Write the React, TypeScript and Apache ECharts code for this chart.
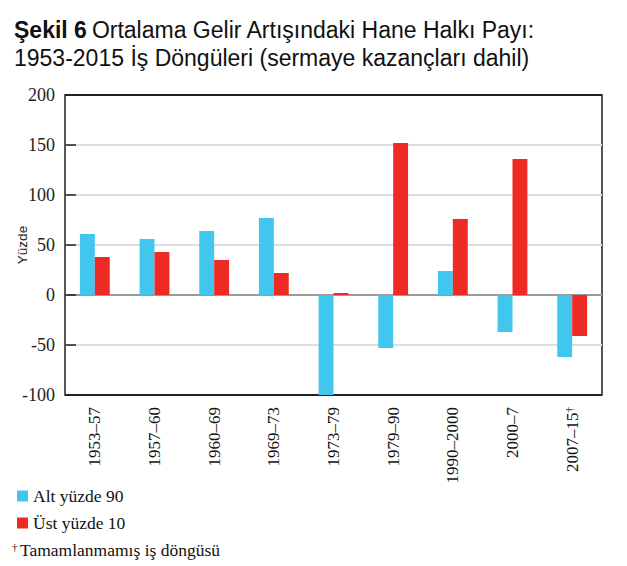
import React, { useEffect, useRef } from "react";
import * as echarts from "echarts";

const categories = ["1953–57", "1957–60", "1960–69", "1969–73", "1973–79", "1979–90", "1990–2000", "2000–7", "2007–15"];
const bottom90 = [61, 56, 64, 77, -100, -53, 24, -37, -62];
const top10 = [38, 43, 35, 22, 2, 152, 76, 136, -41];
const seriesNames = ["Alt yüzde 90", "Üst yüzde 10"];
const titleBold = "Şekil 6";
const titleLine1 = "Ortalama Gelir Artışındaki Hane Halkı Payı:";
const titleLine2 = "1953-2015 İş Döngüleri (sermaye kazançları dahil)";
const footnote = "Tamamlanmamış iş döngüsü";
const incompleteIndex = 8;

const BLUE = "#41C6EE";
const RED = "#EE2A25";
const SERIF = "'Liberation Serif', 'Times New Roman', serif";
const SANS = "'Liberation Sans', Arial, sans-serif";

export default function App() {
  const ref = useRef<HTMLDivElement>(null);
  useEffect(() => {
    if (!ref.current) return;
    const chart = echarts.init(ref.current, undefined, { renderer: "svg" });
    chart.setOption({
      animation: false,
      backgroundColor: "#fff",
      title: {
        left: 14,
        top: 16,
        padding: 0,
        text: `{b|${titleBold}} {n|${titleLine1}}\n{n|${titleLine2}}`,
        textStyle: {
          fontWeight: "normal",
          rich: {
            b: { fontFamily: SANS, fontSize: 23, fontWeight: "bold", color: "#111", lineHeight: 28 },
            n: { fontFamily: SANS, fontSize: 23, fontWeight: "normal", color: "#111", lineHeight: 28 },
          },
        },
      },
      legend: {
        orient: "vertical",
        left: 12,
        top: 482,
        itemWidth: 11,
        itemHeight: 11,
        itemGap: 9,
        icon: "rect",
        selectedMode: false,
        data: seriesNames,
        textStyle: { fontFamily: SERIF, fontSize: 17.5, color: "#111" },
      },
      graphic: [
        { type: "text", left: 12, top: 541, style: { text: "†", fontFamily: SERIF, fontSize: 11, fill: "#111" } },
        { type: "text", left: 20, top: 541, style: { text: footnote, fontFamily: SERIF, fontSize: 17.5, fill: "#111" } },
      ],
      grid: {
        left: 65,
        right: 25,
        top: 95,
        bottom: 171,
        outerBoundsMode: "none",
        containLabel: false,
        show: true,
        borderColor: "#222",
        borderWidth: 1.5,
      },
      xAxis: {
        type: "category",
        data: categories,
        axisLine: { show: false, onZero: false },
        axisTick: { show: false },
        axisLabel: {
          interval: 0,
          rotate: 90,
          margin: 12,
          fontFamily: SERIF,
          fontSize: 17,
          color: "#111",
          formatter: (v: string, i: number) => (i === incompleteIndex ? `{a|${v}}{s|†}` : `{a|${v}}`),
          rich: {
            a: { fontFamily: SERIF, fontSize: 17, color: "#111", lineHeight: 18 },
            s: { fontFamily: SERIF, fontSize: 11, color: "#111", verticalAlign: "top", lineHeight: 18 },
          },
        },
      },
      yAxis: {
        type: "value",
        min: -100,
        max: 200,
        interval: 50,
        name: "Yüzde",
        nameLocation: "middle",
        nameRotate: 90,
        nameGap: 36,
        nameMoveOverlap: false,
        nameTextStyle: { fontFamily: SANS, fontSize: 13.5, color: "#222" },
        axisLine: { show: false },
        axisTick: { show: true, inside: true, length: 11, lineStyle: { color: "#222", width: 1.5 } },
        axisLabel: {
          margin: 10,
          fontFamily: SERIF,
          fontSize: 18,
          color: "#222",
          formatter: "{v|{value}}",
          rich: { v: { fontFamily: SERIF, fontSize: 18, color: "#222" } },
        },
        splitLine: {
          show: true,
          lineStyle: {
            width: 2,
            color: ["#222", "#dedede", "#9a9a9a", "#dedede", "#dedede", "#dedede", "#222"],
          },
        },
      },
      series: [
        {
          name: seriesNames[0],
          type: "bar",
          data: bottom90,
          barWidth: "25%",
          barGap: "0%",
          itemStyle: { color: BLUE },
        },
        {
          name: seriesNames[1],
          type: "bar",
          data: top10,
          barWidth: "25%",
          barGap: "0%",
          itemStyle: { color: RED },
        },
      ],
    });
    return () => chart.dispose();
  }, []);
  return <div ref={ref} style={{ position: "absolute", left: 0, top: 0, width: 627, height: 566 }} />;
}
